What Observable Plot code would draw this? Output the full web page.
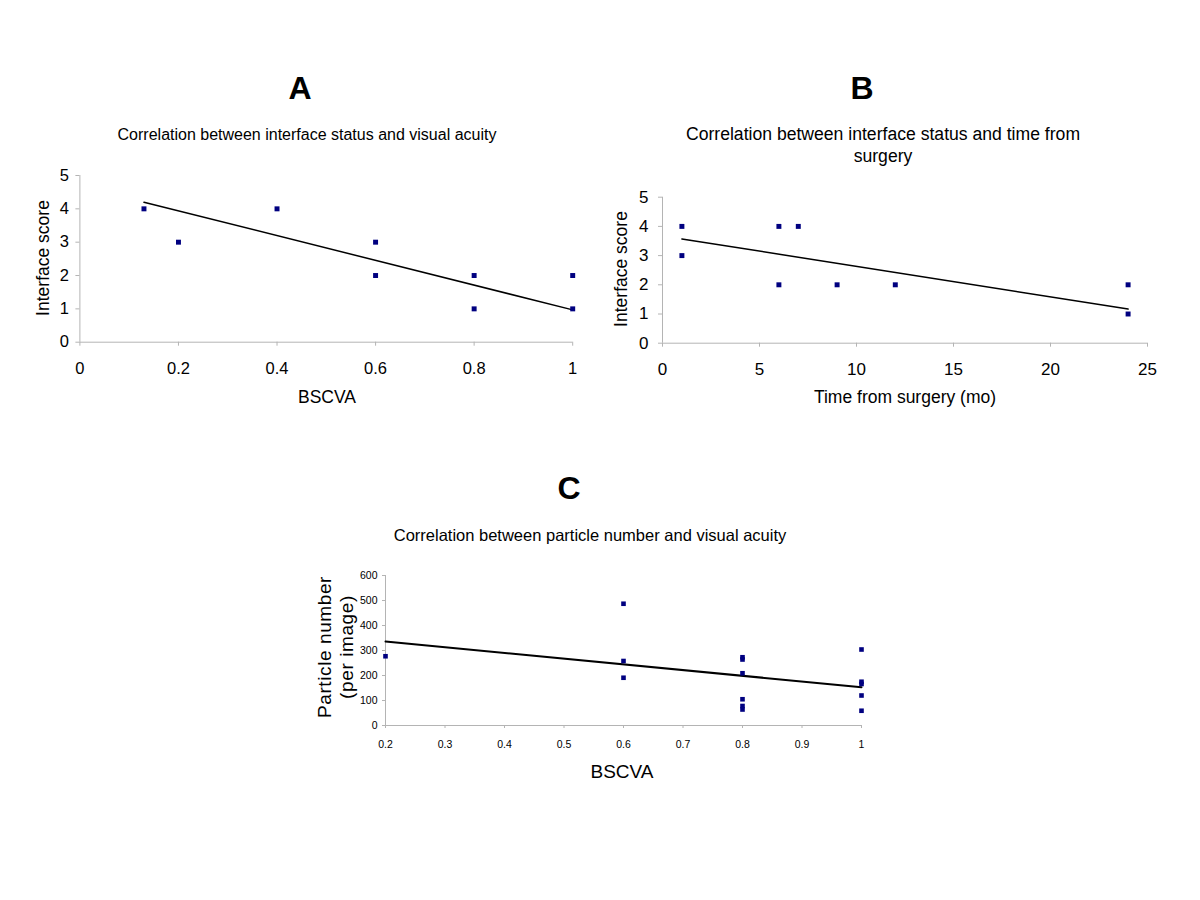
<!DOCTYPE html>
<html>
<head>
<meta charset="utf-8">
<script src="https://cdn.jsdelivr.net/npm/d3@7"></script>
<script src="https://cdn.jsdelivr.net/npm/@observablehq/plot@0.6"></script>
<style>
  html, body { margin: 0; padding: 0; background: #fff; }
  #root { position: relative; width: 1200px; height: 900px; overflow: hidden; font-family: "Liberation Sans", Arial, sans-serif; color: #000; }
  .t { position: absolute; white-space: nowrap; line-height: 1; transform: translate(-50%, -50%); }
  .r { transform: translate(-50%, -50%) rotate(-90deg); text-align: center; }
  .plot { position: absolute; }
</style>
</head>
<body>
<div id="root"></div>
<script>
// ---- Panel A: interface score vs BSCVA ----
const aBscva = [0.13, 0.2, 0.4, 0.6, 0.6, 0.8, 0.8, 1, 1];
const aScore = [4, 3, 4, 3, 2, 2, 1, 2, 1];
const aTrendX = [0.13, 1];
const aTrendY = [4.2, 0.97];
const aTicksX = [0, 0.2, 0.4, 0.6, 0.8, 1];
const aTicksY = [0, 1, 2, 3, 4, 5];

// ---- Panel B: interface score vs time from surgery ----
const bMonths = [1, 1, 6, 7, 6, 9, 12, 24, 24];
const bScore = [4, 3, 4, 4, 2, 2, 2, 2, 1];
const bTrendX = [1, 24];
const bTrendY = [3.57, 1.17];
const bTicksX = [0, 5, 10, 15, 20, 25];
const bTicksY = [0, 1, 2, 3, 4, 5];

// ---- Panel C: particle number vs BSCVA ----
const cBscva = [0.2, 0.6, 0.6, 0.6, 0.8, 0.8, 0.8, 0.8, 0.8, 0.8, 1, 1, 1, 1, 1];
const cParticles = [277, 487, 258, 191, 273, 264, 209, 105, 78, 64, 304, 175, 166, 120, 59];
const cTrendX = [0.2, 1];
const cTrendY = [336, 153];
const cTicksX = [0.2, 0.3, 0.4, 0.5, 0.6, 0.7, 0.8, 0.9, 1];
const cTicksY = [0, 100, 200, 300, 400, 500, 600];

const NAVY = "#000080";
const AXIS = "#b4b4b4";
const FONT = "'Liberation Sans', Arial, sans-serif";

const zip = (xs, ys) => xs.map((x, i) => ({x, y: ys[i]}));

function scatter({pts, trend, xDomain, yDomain, xTicks, yTicks, width, height, mL, mR, mT, mB,
                  fontSize, tickSize, padX, padY, r, trendWidth}) {
  return Plot.plot({
    width, height,
    marginLeft: mL, marginRight: mR, marginTop: mT, marginBottom: mB,
    style: {fontFamily: FONT, fontSize: fontSize + "px", background: "transparent", color: "#000", overflow: "visible"},
    x: {domain: xDomain},
    y: {domain: yDomain},
    marks: [
      Plot.ruleY([yDomain[0]], {stroke: AXIS}),
      Plot.ruleX([xDomain[0]], {stroke: AXIS}),
      Plot.axisX(xTicks, {tickSize, tickPadding: padX, stroke: AXIS, fill: "#000", fontSize, label: null, tickFormat: d => String(d)}),
      Plot.axisY(yTicks, {tickSize, tickPadding: padY, stroke: AXIS, fill: "#000", fontSize, label: null, tickFormat: d => String(d)}),
      Plot.line(trend, {x: "x", y: "y", stroke: "#000", strokeWidth: trendWidth}),
      Plot.dot(pts, {x: "x", y: "y", symbol: "square", r, fill: NAVY, stroke: "none"})
    ]
  });
}

const root = document.getElementById("root");

function place(el, left, top) {
  el.classList.add("plot");
  el.style.left = left + "px";
  el.style.top = top + "px";
  root.appendChild(el);
}

function label(text, x, y, size, opts = {}) {
  const d = document.createElement("div");
  d.className = "t" + (opts.rot ? " r" : "");
  d.style.left = x + "px";
  d.style.top = y + "px";
  d.style.fontSize = size + "px";
  if (opts.bold) d.style.fontWeight = "bold";
  if (opts.lh) d.style.lineHeight = opts.lh + "px";
  if (opts.ls) d.style.letterSpacing = opts.ls + "px";
  d.innerHTML = text;
  root.appendChild(d);
}

// Panel A
place(scatter({
  pts: zip(aBscva, aScore), trend: zip(aTrendX, aTrendY),
  xDomain: [0, 1], yDomain: [0, 5], xTicks: aTicksX, yTicks: aTicksY,
  width: 600, height: 220, mL: 79.4, mR: 27.8, mT: 15, mB: 38.3,
  fontSize: 16.5, tickSize: 4, padX: 16, padY: 7, r: 2.8, trendWidth: 1.5
}), 0, 160);

// Panel B
place(scatter({
  pts: zip(bMonths, bScore), trend: zip(bTrendX, bTrendY),
  xDomain: [0, 25], yDomain: [0, 5], xTicks: bTicksX, yTicks: bTicksY,
  width: 600, height: 200, mL: 62, mR: 53, mT: 16.7, mB: 37.3,
  fontSize: 17, tickSize: 4, padX: 16, padY: 10, r: 2.8, trendWidth: 1.5
}), 600, 180);

// Panel C
place(scatter({
  pts: zip(cBscva, cParticles), trend: zip(cTrendX, cTrendY),
  xDomain: [0.2, 1], yDomain: [0, 600], xTicks: cTicksX, yTicks: cTicksY,
  width: 600, height: 200, mL: 85, mR: 39, mT: 15, mB: 35,
  fontSize: 10.5, tickSize: 3, padX: 12, padY: 5, r: 2.6, trendWidth: 2
}), 300, 560);

// Titles and axis titles
label("A", 300, 88, 32, {bold: true});
label("Correlation between interface status and visual acuity", 307, 134.5, 16);
label("Interface score", 44.3, 258, 17.5, {rot: true});
label("BSCVA", 327, 398, 17.5);

label("B", 862, 88, 32, {bold: true});
label("Correlation between interface status and time from", 883, 135, 17.6);
label("surgery", 883, 157, 17.6);
label("Interface score", 621.7, 268.5, 17.5, {rot: true});
label("Time from surgery (mo)", 905, 398, 17.5);

label("C", 569, 488, 32, {bold: true});
label("Correlation between particle number and visual acuity", 590, 535, 16.5);
label("Particle number<br>(per image)", 336, 647, 19, {rot: true, lh: 21.7, ls: 0.6});
label("BSCVA", 622, 770.5, 19);
</script>
</body>
</html>
